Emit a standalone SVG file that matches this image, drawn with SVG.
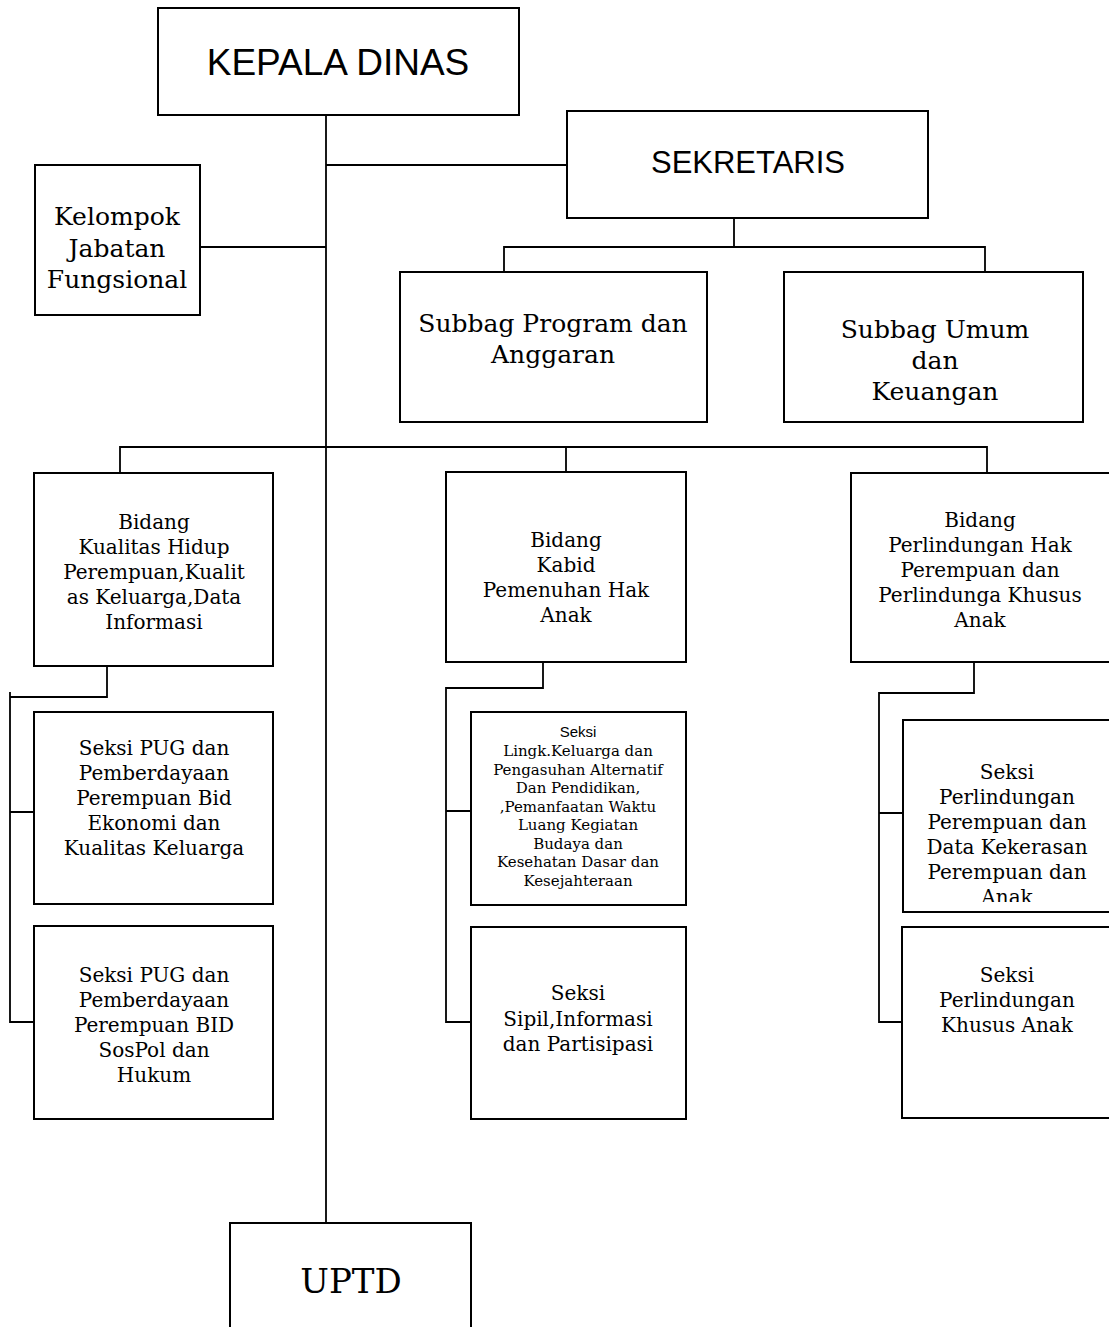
<svg xmlns="http://www.w3.org/2000/svg" width="1109" height="1327" viewBox="0 0 1109 1327">
<style>
.box{fill:#fff;stroke:#000;stroke-width:2}
.ln{fill:none;stroke:#000;stroke-width:1.8}
.sans{font-family:"Liberation Sans",Arial,sans-serif;fill:#000;text-anchor:middle}
.ser{font-family:"DejaVu Serif","Liberation Serif",serif;fill:#000;text-anchor:middle}
.L{font-size:25px}
.M{font-size:20px}
.S{font-size:15px}
</style>
<defs>
<clipPath id="clipPP"><rect x="903" y="720" width="210" height="182"/></clipPath>
</defs>
<rect width="1109" height="1327" fill="#fff"/>
<g id="connectors">
<path class="ln" d="M326 112V1223"/>
<path class="ln" d="M326 165H567"/>
<path class="ln" d="M200 247H326"/>
<path class="ln" d="M734 218V247M504 272V247H985V272"/>
<path class="ln" d="M120 473V447H986M566 447V472M986 447H987V473"/>
<path class="ln" d="M107 666V697H10M10 692V1022H34M10 812H34"/>
<path class="ln" d="M543 662V688H446V1022H471M446 811H471"/>
<path class="ln" d="M974 662V693H879V1022H902M879 813H903"/>
</g>
<g id="kepala-dinas">
<rect class="box" x="158" y="8" width="361" height="107"/>
<text class="sans" x="338" y="75" font-size="37">KEPALA DINAS</text>
</g>
<g id="sekretaris">
<rect class="box" x="567" y="111" width="361" height="107"/>
<text class="sans" x="748" y="173" font-size="31">SEKRETARIS</text>
</g>
<g id="kelompok-jabatan-fungsional">
<rect class="box" x="35" y="165" width="165" height="150"/>
<text class="ser L" x="117" y="225">Kelompok</text>
<text class="ser L" x="117" y="256.5">Jabatan</text>
<text class="ser L" x="117" y="287.5">Fungsional</text>
</g>
<g id="subbag-program">
<rect class="box" x="400" y="272" width="307" height="150"/>
<text class="ser L" x="553" y="332">Subbag Program dan</text>
<text class="ser L" x="553" y="362.7">Anggaran</text>
</g>
<g id="subbag-umum">
<rect class="box" x="784" y="272" width="299" height="150"/>
<text class="ser L" x="935" y="338">Subbag Umum</text>
<text class="ser L" x="935" y="368.5">dan</text>
<text class="ser L" x="935" y="400">Keuangan</text>
</g>
<g id="bidang-kualitas-hidup">
<rect class="box" x="34" y="473" width="239" height="193"/>
<text class="ser M" x="154" y="529">Bidang</text>
<text class="ser M" x="154" y="554">Kualitas Hidup</text>
<text class="ser M" x="154" y="579">Perempuan,Kualit</text>
<text class="ser M" x="154" y="604">as Keluarga,Data</text>
<text class="ser M" x="154" y="629">Informasi</text>
</g>
<g id="bidang-pemenuhan-hak-anak">
<rect class="box" x="446" y="472" width="240" height="190"/>
<text class="ser M" x="566" y="547">Bidang</text>
<text class="ser M" x="566" y="572">Kabid</text>
<text class="ser M" x="566" y="597">Pemenuhan Hak</text>
<text class="ser M" x="566" y="622">Anak</text>
</g>
<g id="bidang-perlindungan">
<rect class="box" x="851" y="473" width="262" height="189"/>
<text class="ser M" x="980" y="527">Bidang</text>
<text class="ser M" x="980" y="552">Perlindungan Hak</text>
<text class="ser M" x="980" y="577">Perempuan dan</text>
<text class="ser M" x="980" y="602">Perlindunga Khusus</text>
<text class="ser M" x="980" y="627">Anak</text>
</g>
<g id="seksi-pug-ekonomi">
<rect class="box" x="34" y="712" width="239" height="192"/>
<text class="ser M" x="154" y="755">Seksi PUG dan</text>
<text class="ser M" x="154" y="780">Pemberdayaan</text>
<text class="ser M" x="154" y="805">Perempuan Bid</text>
<text class="ser M" x="154" y="830">Ekonomi dan</text>
<text class="ser M" x="154" y="855">Kualitas Keluarga</text>
</g>
<g id="seksi-pug-sospol">
<rect class="box" x="34" y="926" width="239" height="193"/>
<text class="ser M" x="154" y="982">Seksi PUG dan</text>
<text class="ser M" x="154" y="1007">Pemberdayaan</text>
<text class="ser M" x="154" y="1032">Perempuan BID</text>
<text class="ser M" x="154" y="1057">SosPol dan</text>
<text class="ser M" x="154" y="1082">Hukum</text>
</g>
<g id="seksi-lingkungan-keluarga">
<rect class="box" x="471" y="712" width="215" height="193"/>
<text class="sans" x="578" y="737" font-size="15">Seksi</text>
<text class="ser S" x="578" y="756">Lingk.Keluarga dan</text>
<text class="ser S" x="578" y="774.5">Pengasuhan Alternatif</text>
<text class="ser S" x="578" y="793">Dan Pendidikan,</text>
<text class="ser S" x="578" y="811.5">,Pemanfaatan Waktu</text>
<text class="ser S" x="578" y="830">Luang Kegiatan</text>
<text class="ser S" x="578" y="848.5">Budaya dan</text>
<text class="ser S" x="578" y="867">Kesehatan Dasar dan</text>
<text class="ser S" x="578" y="886">Kesejahteraan</text>
</g>
<g id="seksi-sipil">
<rect class="box" x="471" y="927" width="215" height="192"/>
<text class="ser M" x="578" y="1000">Seksi</text>
<text class="ser M" x="578" y="1025.7">Sipil,Informasi</text>
<text class="ser M" x="578" y="1050.7">dan Partisipasi</text>
</g>
<g id="seksi-perlindungan-perempuan">
<rect class="box" x="903" y="720" width="210" height="192"/>
<g clip-path="url(#clipPP)">
<text class="ser M" x="1007" y="779">Seksi</text>
<text class="ser M" x="1007" y="804">Perlindungan</text>
<text class="ser M" x="1007" y="829">Perempuan dan</text>
<text class="ser M" x="1007" y="854">Data Kekerasan</text>
<text class="ser M" x="1007" y="879">Perempuan dan</text>
<text class="ser M" x="1007" y="904">Anak</text>
</g>
</g>
<g id="seksi-perlindungan-khusus-anak">
<rect class="box" x="902" y="927" width="211" height="191"/>
<text class="ser M" x="1007" y="982">Seksi</text>
<text class="ser M" x="1007" y="1007">Perlindungan</text>
<text class="ser M" x="1007" y="1032">Khusus Anak</text>
</g>
<g id="uptd">
<rect class="box" x="230" y="1223" width="241" height="120"/>
<text class="ser" x="351" y="1293" font-size="34">UPTD</text>
</g>
</svg>
